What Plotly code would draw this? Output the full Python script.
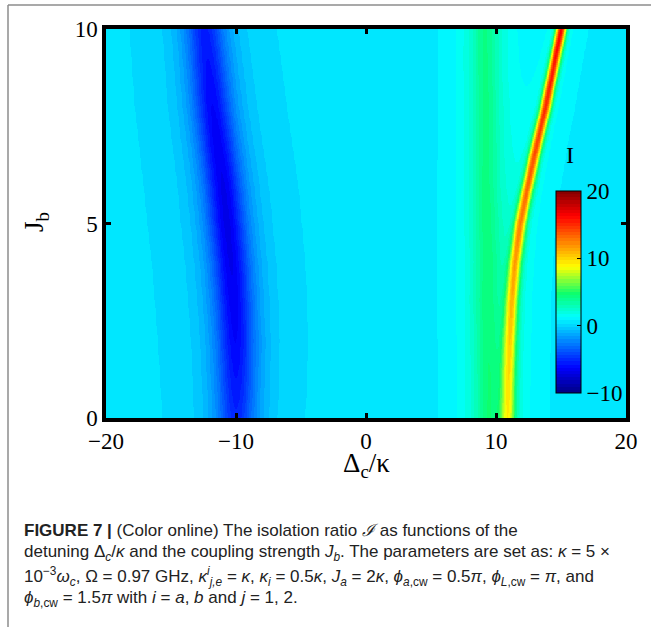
import numpy as np
import plotly.graph_objects as go

# ---------------- data ----------------
x_ticks = [-20, -10, 0, 10, 20]
y_ticks = [0, 5, 10]
cbar_ticks = [-10, 0, 10, 20]

# features per row of J_b
jb_rows       = [0, 1, 2, 3, 4, 5, 6, 7, 8, 9, 10]
base_level    = 0.4
dip_center    = [-10.0, -10.0, -10.05, -10.2, -10.4, -10.7, -11.0, -11.4, -11.8, -12.1, -12.4]
dip_depth     = [5.6, 6.2, 6.7, 7.0, 7.2, 7.3, 7.2, 7.0, 6.7, 6.3, 5.9]
dip_width     = [2.2, 2.2, 2.2, 2.2, 2.2, 2.2, 2.2, 2.2, 2.2, 2.2, 2.2]
green_center  = [9.4, 9.4, 9.35, 9.3, 9.3, 9.25, 9.2, 9.2, 9.2, 9.15, 9.15]
green_height  = [3.7, 3.7, 3.7, 3.7, 3.7, 3.7, 3.7, 3.7, 3.7, 3.7, 3.7]
green_width   = [1.2, 1.2, 1.2, 1.2, 1.2, 1.2, 1.2, 1.2, 1.2, 1.2, 1.2]
ridge_center  = [10.9, 10.95, 11.05, 11.2, 11.45, 11.85, 12.45, 13.1, 13.8, 14.4, 15.0]
ridge_height  = [6.4, 6.9, 7.6, 8.5, 9.5, 10.5, 11.5, 12.5, 13.4, 14.1, 14.8]
ridge_sigma   = [0.38, 0.37, 0.36, 0.34, 0.33, 0.32, 0.31, 0.30, 0.29, 0.28, 0.27]
wing_height   = [1.0, 1.0, 1.0, 1.0, 1.0, 1.0, 1.0, 1.0, 1.0, 1.0, 1.0]
wing_width    = [1.4, 1.4, 1.4, 1.4, 1.4, 1.4, 1.4, 1.4, 1.4, 1.4, 1.4]

# ---------------- build the field ----------------
xs = np.linspace(-20, 20, 801)
ys = np.linspace(0, 10, 201)
P = lambda arr: np.interp(ys, jb_rows, arr)[:, None]
X = xs[None, :]
Z = (base_level
     - P(dip_depth) / (1 + ((X - P(dip_center)) / P(dip_width)) ** 2) ** 2
     + P(green_height) / (1 + ((X - P(green_center)) / P(green_width)) ** 2)
     + P(ridge_height) * np.exp(-((X - P(ridge_center)) ** 2) / (2 * P(ridge_sigma) ** 2))
     + P(wing_height) / (1 + ((X - P(ridge_center)) / P(wing_width)) ** 2))
Z = np.round(Z, 2)

# ---------------- 64-step jet-like colorscale ----------------
anchors = [(0.0, (0, 0, 128)), (0.125, (0, 0, 255)), (0.375, (0, 255, 255)),
           (0.49, (10, 255, 110)), (0.625, (255, 255, 0)), (0.875, (255, 0, 0)),
           (1.0, (128, 0, 0))]
at = [a[0] for a in anchors]
def col(t):
    return tuple(int(round(np.interp(t, at, [a[1][k] for a in anchors]))) for k in range(3))
cs = []
N = 64
for i in range(N):
    c = 'rgb(%d,%d,%d)' % col((i + 0.5) / N)
    cs.append([i / N, c])
    cs.append([(i + 1) / N, c])

# ---------------- figure ----------------
W, H = 651, 627
L, R, T, B = 106, 25, 29, 209
pw, ph = W - L - R, H - T - B
px = lambda X_: (X_ - L) / pw
py = lambda Y_: (H - B - Y_) / ph

serif = "Liberation Serif, Times New Roman, serif"
sans = "Liberation Sans Narrow, Liberation Sans, Arial, sans-serif"

fig = go.Figure(go.Heatmap(
    x=xs, y=ys, z=Z, colorscale=cs, zmin=-10, zmax=20, zsmooth=False,
    colorbar=dict(x=px(556), xanchor='left', xpad=0, ypad=0,
                  y=py(292), yanchor='middle', len=202 / ph, lenmode='fraction',
                  thickness=25, thicknessmode='pixels',
                  outlinewidth=1, outlinecolor='black',
                  tickvals=cbar_ticks, ticktext=[str(v).replace('-', '\u2212') for v in cbar_ticks],
                  ticks='inside', ticklen=4, tickcolor='black',
                  tickfont=dict(family=serif, size=23, color='black')),
    hoverinfo='skip'))

axis_common = dict(showline=True, linewidth=3.5, linecolor='black', mirror='ticks',
                   ticks='inside', ticklen=5, tickwidth=3, tickcolor='black',
                   showgrid=False, zeroline=False,
                   tickfont=dict(family=serif, size=23, color='black'))
fig.update_xaxes(range=[-20, 20], tickvals=x_ticks,
                 ticktext=[str(v).replace('-', '\u2212') for v in x_ticks], **axis_common)
fig.update_yaxes(range=[0, 10], tickvals=y_ticks, ticktext=[str(v) for v in y_ticks], **axis_common)

ann = []
ann.append(dict(text='\u0394<sub>c</sub>/\u03ba', x=0.5, y=py(446), xref='paper', yref='paper',
                xanchor='center', yanchor='top', showarrow=False,
                font=dict(family=serif, size=27, color='black')))
ann.append(dict(text='J<sub>b</sub>', x=px(36), y=py(222), xref='paper', yref='paper',
                xanchor='center', yanchor='middle', textangle=-90, showarrow=False,
                font=dict(family=serif, size=27, color='black')))
ann.append(dict(text='I', x=px(570), y=py(155), xref='paper', yref='paper',
                xanchor='center', yanchor='middle', showarrow=False,
                font=dict(family=serif, size=24, color='black')))

caption = [
    '<b>FIGURE 7 |</b> (Color online) The isolation ratio <i>\u2110</i> as functions of the',
    'detuning \u0394<sub><i>c</i></sub>/<i>\u03ba</i> and the coupling strength <i>J<sub>b</sub></i>. The parameters are set as: <i>\u03ba</i> = 5 \u00d7',
    '10<sup>\u22123</sup><i>\u03c9<sub>c</sub></i>, \u03a9 = 0.97 GHz, <i>\u03ba<sup>i</sup><sub>j,e</sub></i> = <i>\u03ba</i>, <i>\u03ba<sub>i</sub></i> = 0.5<i>\u03ba</i>, <i>J<sub>a</sub></i> = 2<i>\u03ba</i>, <i>\u03d5<sub>a</sub></i><sub>,cw</sub> = 0.5<i>\u03c0</i>, <i>\u03d5<sub>L</sub></i><sub>,cw</sub> = <i>\u03c0</i>, and',
    '<i>\u03d5<sub>b</sub></i><sub>,cw</sub> = 1.5<i>\u03c0</i> with <i>i</i> = <i>a</i>, <i>b</i> and <i>j</i> = 1, 2.',
]
cap_y = [530, 553, 576, 599]
for t, yy in zip(caption, cap_y):
    ann.append(dict(text=t, x=px(22), y=py(yy), xref='paper', yref='paper',
                    xanchor='left', yanchor='middle', showarrow=False, align='left',
                    font=dict(family=sans, size=17, color='#222222')))

shapes = [
    dict(type='line', xref='paper', yref='paper', x0=px(8), x1=px(651), y0=py(5), y1=py(5),
         line=dict(color='#8c8c8c', width=1.5)),
    dict(type='line', xref='paper', yref='paper', x0=px(8), x1=px(8), y0=py(5), y1=py(627),
         line=dict(color='#8c8c8c', width=1.5)),
]

fig.update_layout(width=W, height=H, margin=dict(l=L, r=R, t=T, b=B),
                  paper_bgcolor='white', plot_bgcolor='white',
                  annotations=ann, shapes=shapes, showlegend=False)
fig.write_html("out.html", config={'displayModeBar': False},
               post_script="document.body.style.margin='0px';document.body.style.overflow='hidden';")
